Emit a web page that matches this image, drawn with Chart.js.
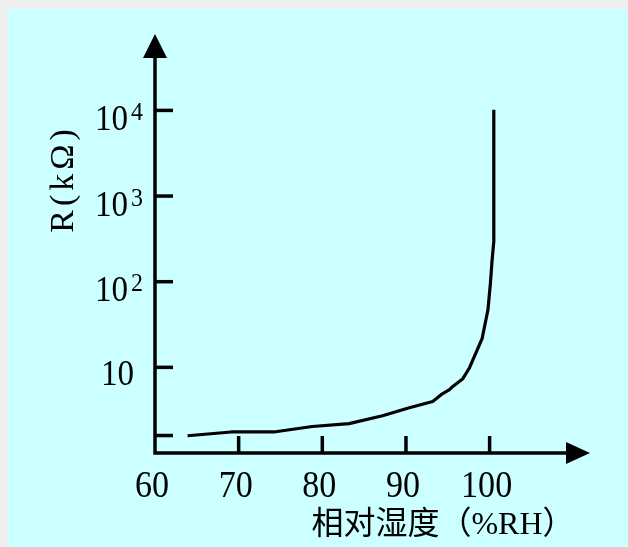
<!DOCTYPE html>
<html>
<head>
<meta charset="utf-8">
<script src="https://cdn.jsdelivr.net/npm/chart.js@4"></script>
<style>
  html, body { margin: 0; padding: 0; background: #eeeeee; }
  canvas { display: block; }
</style>
</head>
<body>
<canvas id="humChart" width="628" height="547"></canvas>
<script>
// relative humidity (%RH) vs resistance (kOhm)
const humidity   = [63.9, 69.1, 74.2, 78.8, 83.2, 87.2, 90.4, 93.2, 94.2, 95.2, 95.6, 96.8, 97.6, 99.1, 99.8, 100.1, 100.3, 100.5, 100.5];
const resistance = [1.59, 1.76, 1.76, 2.04, 2.2, 2.72, 3.38, 4.0, 4.79, 5.48, 5.99, 7.37, 9.9, 21.6, 47, 97, 181, 295, 10200];

const xTicks = [60, 70, 80, 90, 100];
const yTicks = [1.6, 10, 100, 1000, 10000];
const yTickBase = ['', '10', '10', '10', '10'];
const yTickExp  = ['', '', '2', '3', '4'];

const xTitle = '相对湿度（%RH）';
const yTitle = 'R(kΩ)';

const serif = '"Liberation Serif", "DejaVu Serif", serif';

// draws text slightly narrowed so digits come out tall like the original face
function tallText(c, txt, x, y, size, align) {
  c.save();
  c.font = size + 'px ' + serif;
  c.textAlign = align;
  c.translate(x, y);
  c.scale(0.92, 1);
  c.fillText(txt, 0, 0);
  c.restore();
}

const axesPlugin = {
  id: 'axesPlugin',
  beforeDraw(chart) {
    const c = chart.ctx;
    c.save();
    c.fillStyle = '#eeeeee';
    c.fillRect(0, 0, chart.width, chart.height);
    c.fillStyle = '#ccffff';
    c.fillRect(8, 9, chart.width - 8, chart.height - 9);
    c.restore();
  },
  afterDraw(chart) {
    const c = chart.ctx;
    const xs = chart.scales.x, ys = chart.scales.y;
    const area = chart.chartArea;
    const x0 = xs.getPixelForValue(60);
    const y0 = area.bottom;
    c.save();
    c.strokeStyle = '#000';
    c.fillStyle = '#000';
    c.lineWidth = 3.5;
    c.lineCap = 'butt';

    // axis lines
    c.beginPath();
    c.moveTo(x0, area.top + 20);
    c.lineTo(x0, y0);
    c.lineTo(area.right - 20, y0);
    c.stroke();

    // arrow heads
    c.beginPath();
    c.moveTo(x0, area.top);
    c.lineTo(x0 - 12, area.top + 24);
    c.lineTo(x0 + 12, area.top + 24);
    c.closePath();
    c.fill();
    c.beginPath();
    c.moveTo(area.right, y0);
    c.lineTo(area.right - 24, y0 - 11);
    c.lineTo(area.right - 24, y0 + 11);
    c.closePath();
    c.fill();

    // x ticks (inward) + labels
    c.textBaseline = 'alphabetic';
    xTicks.forEach(v => {
      const px = xs.getPixelForValue(v);
      if (v !== 60) {
        c.beginPath();
        c.moveTo(px, y0);
        c.lineTo(px, y0 - 17);
        c.stroke();
      }
      tallText(c, String(v), px - 3, 497, 37, 'center');
    });

    // y ticks (inward) + labels
    yTicks.forEach((v, i) => {
      const py = ys.getPixelForValue(v);
      c.beginPath();
      c.moveTo(x0, py);
      c.lineTo(x0 + 18, py);
      c.stroke();
      if (!yTickBase[i]) return;
      if (yTickExp[i]) {
        tallText(c, yTickBase[i], 128, py + 19.5, 36, 'right');
        tallText(c, yTickExp[i], 131, py + 9.5, 26, 'left');
      } else {
        tallText(c, yTickBase[i], 134, py + 17.5, 36, 'right');
      }
    });

    // axis titles
    c.font = '32px "Liberation Serif", "Noto Sans CJK SC", serif';
    c.textAlign = 'center';
    c.textBaseline = 'middle';
    c.fillText(xTitle, 443, 526);

    c.translate(64, 181);
    c.rotate(-Math.PI / 2);
    c.font = '34px ' + serif;
    c.letterSpacing = '4px';
    c.fillText(yTitle, 2, 0);
    c.restore();
  }
};

new Chart(document.getElementById('humChart'), {
  type: 'line',
  data: {
    datasets: [{
      data: humidity.map((h, i) => ({ x: h, y: resistance[i] })),
      borderColor: '#000',
      borderWidth: 3.2,
      pointRadius: 0,
      tension: 0,
      borderJoinStyle: 'round',
      fill: false
    }]
  },
  options: {
    responsive: false,
    animation: false,
    events: [],
    clip: false,
    layout: { padding: { left: 155, top: 34, right: 38, bottom: 94 } },
    plugins: { legend: { display: false }, tooltip: { enabled: false } },
    scales: {
      x: { type: 'linear', min: 60, max: 112, display: false },
      y: { type: 'logarithmic', min: 1, max: 78000, display: false }
    }
  },
  plugins: [axesPlugin]
});
</script>
</body>
</html>
